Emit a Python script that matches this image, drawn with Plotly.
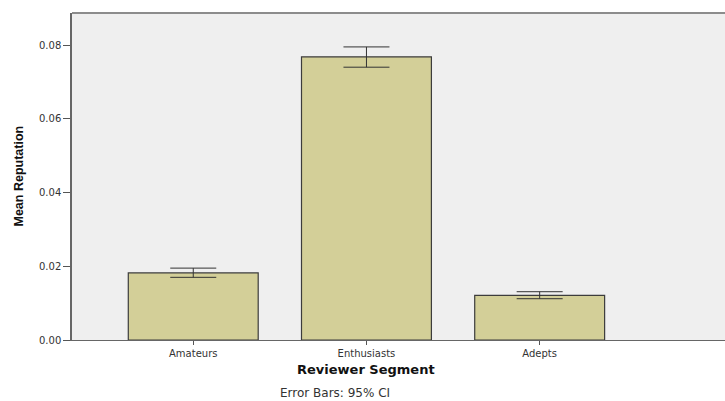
import plotly.graph_objects as go

categories = ["Amateurs", "Enthusiasts", "Adepts"]
means = [0.0182, 0.0768, 0.0121]
ci_upper = [0.0195, 0.0795, 0.0131]
ci_lower = [0.0170, 0.0740, 0.0112]
ytick_vals = [0.00, 0.02, 0.04, 0.06, 0.08]
ytick_text = ["0.00", "0.02", "0.04", "0.06", "0.08"]

xpos = list(range(len(categories)))
err_plus = [u - m for u, m in zip(ci_upper, means)]
err_minus = [m - l for m, l in zip(means, ci_lower)]

W, H = 725, 401
L, T, R, B = 72, 13, 725, 340
PW, PH = R - L, B - T

def py(screen_y):
    return (B - screen_y) / PH

def px(screen_x):
    return (screen_x - L) / PW

TICKFONT = dict(size=10, family="DejaVu Sans, sans-serif", color="#333333")

fig = go.Figure()
fig.add_trace(go.Bar(
    x=xpos, y=means, width=0.75,
    marker=dict(color="#d3cf98", line=dict(color="#3c3c3c", width=1.2)),
    error_y=dict(type="data", array=err_plus, arrayminus=err_minus,
                 symmetric=False, color="#333333", thickness=1, width=23),
    hoverinfo="skip",
))

fig.update_layout(
    width=W, height=H,
    margin=dict(l=L, r=W - R, t=T, b=H - B),
    paper_bgcolor="white", plot_bgcolor="#efefef",
    showlegend=False,
    font=dict(family="DejaVu Sans, sans-serif", color="#222222"),
    xaxis=dict(range=[-0.70, 3.07], tickvals=xpos, ticktext=categories,
               ticks="outside", ticklen=4, tickcolor="#555555",
               tickfont=TICKFONT, showgrid=False, zeroline=False,
               showline=True, linecolor="#666666", linewidth=1.2, mirror=False),
    yaxis=dict(range=[0, 0.0887], tickvals=ytick_vals, ticktext=ytick_text,
               ticks="outside", ticklen=7, tickcolor="#555555",
               tickfont=TICKFONT, showgrid=False, zeroline=False,
               showline=True, linecolor="#666666", linewidth=1.5),
)

# top border
fig.add_shape(type="line", xref="paper", yref="paper", x0=0, x1=1, y0=1, y1=1,
              line=dict(color="#8c8c8c", width=2))

fig.add_annotation(text="<b>Reviewer Segment</b>", xref="x", yref="paper",
                   x=1, y=py(369), showarrow=False,
                   font=dict(size=13, family="DejaVu Sans, sans-serif", color="#111111"),
                   yanchor="middle")
fig.add_annotation(text="Error Bars: 95% CI", xref="paper", yref="paper",
                   x=px(334.7), y=py(393), showarrow=False,
                   font=dict(size=12, family="DejaVu Sans, sans-serif", color="#333333"),
                   yanchor="middle")
fig.add_annotation(text="<b>Mean Reputation</b>", xref="paper", yref="paper",
                   x=px(18), y=0.5, showarrow=False, textangle=-90,
                   font=dict(size=12.5, family="'Liberation Sans Narrow', 'Liberation Sans', Arial",
                             color="#111111"),
                   xanchor="center", yanchor="middle")

fig.write_html(
    "out.html",
    config={"displayModeBar": False},
    post_script="document.body.style.margin='0';document.body.style.overflow='hidden';",
)
